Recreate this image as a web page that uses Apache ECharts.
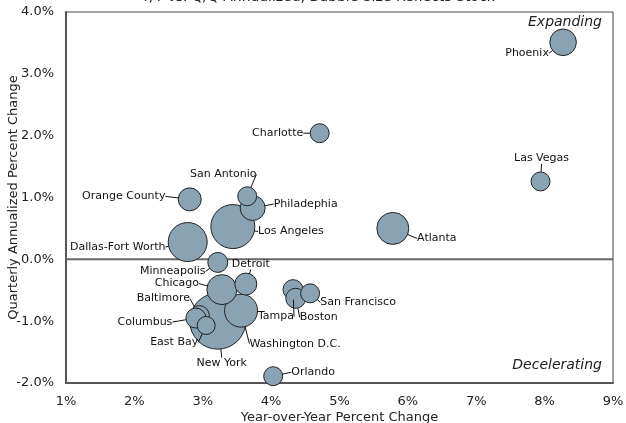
<!DOCTYPE html>
<html>
<head>
<meta charset="utf-8">
<script src="https://cdn.jsdelivr.net/npm/echarts@6/dist/echarts.min.js"></script>
<style>
  html, body { margin: 0; padding: 0; background: #fff; }
  #chart { width: 626px; height: 423px; }
</style>
</head>
<body>
<div id="chart"></div>
<script>
// metro data
const cities = ["Phoenix", "Charlotte", "Las Vegas", "Atlanta", "Orange County", "San Antonio",
  "Philadephia", "Los Angeles", "Dallas-Fort Worth", "Minneapolis", "Detroit", "Chicago",
  "Washington D.C.", "New York", "Baltimore", "Columbus", "East Bay", "Tampa", "Boston",
  "San Francisco", "Orlando"];
const yoy = [8.27, 4.71, 7.94, 5.78, 2.81, 3.65, 3.73, 3.44, 2.78, 3.22, 3.63, 3.28,
  3.56, 3.22, 2.95, 2.9, 3.05, 4.32, 4.36, 4.57, 4.03];
const qoq = [3.51, 2.04, 1.26, 0.5, 0.97, 1.02, 0.83, 0.53, 0.28, -0.05, -0.4, -0.49,
  -0.83, -1.0, -0.91, -0.95, -1.07, -0.49, -0.63, -0.55, -1.89];
// relative stock (bubble area)
const stock = [177, 90, 90, 256, 132, 90, 156, 484, 380, 100, 121, 225,
  272, 784, 100, 100, 81, 100, 100, 90, 90];
const xTicks = [1, 2, 3, 4, 5, 6, 7, 8, 9];
const yTicks = [-2, -1, 0, 1, 2, 3, 4];

// label offsets from bubble centre (px)
const labelOffsets = {
  "Phoenix": [-36, 11], "Charlotte": [-42, 0], "Las Vegas": [1, -23], "Atlanta": [44, 10],
  "Orange County": [-66, -3], "San Antonio": [-24, -22], "Philadephia": [53, -4],
  "Los Angeles": [58, 5], "Dallas-Fort Worth": [-70, 5], "Minneapolis": [-45, 9],
  "Detroit": [5, -20], "Chicago": [-45, -6], "Washington D.C.": [54, 33], "New York": [4, 42],
  "Baltimore": [-36, -17], "Columbus": [-51, 4], "East Bay": [-32, 17], "Tampa": [-17, 27],
  "Boston": [23, 19], "San Francisco": [48, 9], "Orlando": [40, -4]
};

// biggest bubbles first so the small ones sit on top
const order = cities.map((c, i) => i).sort((a, b) => stock[b] - stock[a]);
const points = order.map(i => ({ name: cities[i], value: [yoy[i], qoq[i], stock[i]] }));

const font = "DejaVu Sans";
const chart = echarts.init(document.getElementById("chart"));
chart.setOption({
  animation: false,
  textStyle: { fontFamily: font },
  grid: {
    left: 66, right: 13, top: 12, bottom: 40, outerBoundsMode: "none",
    show: true, borderColor: "#444", borderWidth: 1
  },
  xAxis: {
    type: "value", min: xTicks[0], max: xTicks[xTicks.length - 1], interval: 1,
    name: "Year-over-Year Percent Change", nameLocation: "middle", nameGap: 28,
    nameMoveOverlap: false,
    nameTextStyle: { fontFamily: font, fontSize: 13, color: "#222" },
    axisLine: { show: true, onZero: false, lineStyle: { color: "#555", width: 2 } },
    axisTick: { show: false },
    splitLine: { show: false },
    axisLabel: { formatter: "{value}%", fontSize: 13, color: "#222", margin: 12 }
  },
  yAxis: {
    type: "value", min: yTicks[0], max: yTicks[yTicks.length - 1], interval: 1,
    name: "Quarterly Annualized Percent Change", nameLocation: "middle", nameGap: 46,
    nameMoveOverlap: false,
    nameTextStyle: { fontFamily: font, fontSize: 13, color: "#222" },
    axisLine: { show: true, onZero: false, lineStyle: { color: "#555", width: 2 } },
    axisTick: { show: false },
    splitLine: { show: false },
    axisLabel: { formatter: v => v.toFixed(1) + "%", fontSize: 13, color: "#222", margin: 12 }
  },
  graphic: [
    { type: "text", x: 318, y: -10,
      style: { text: "Y/Y vs. Q/Q Annualized, Bubble Size Reflects Stock", align: "center",
        verticalAlign: "top", font: "14px DejaVu Sans", fill: "#222" } },
    { type: "text", right: 24, top: 15,
      style: { text: "Expanding", font: "italic 14px DejaVu Sans", fill: "#222" } },
    { type: "text", right: 24, top: 358,
      style: { text: "Decelerating", font: "italic 14px DejaVu Sans", fill: "#222" } }
  ],
  series: [
    {
      // zero line, under the bubbles
      type: "line", z: 1, silent: true, symbol: "none",
      data: [[xTicks[0], 0], [xTicks[xTicks.length - 1], 0]],
      lineStyle: { color: "#666", width: 2 }
    },
    {
      type: "scatter", z: 2,
      data: points,
      symbolSize: v => 2 * Math.sqrt(v[2]),
      itemStyle: { color: "#8aa3b3", borderColor: "#222", borderWidth: 1, opacity: 1 },
      label: {
        show: true, position: "inside", formatter: p => p.name,
        fontFamily: font, fontSize: 11, color: "#111"
      },
      labelLine: { show: true, showAbove: true, lineStyle: { color: "#111", width: 1 } },
      labelLayout: p => {
        const o = labelOffsets[points[p.dataIndex].name];
        return { dx: o[0], dy: o[1] };
      }
    }
  ]
});
</script>
</body>
</html>
